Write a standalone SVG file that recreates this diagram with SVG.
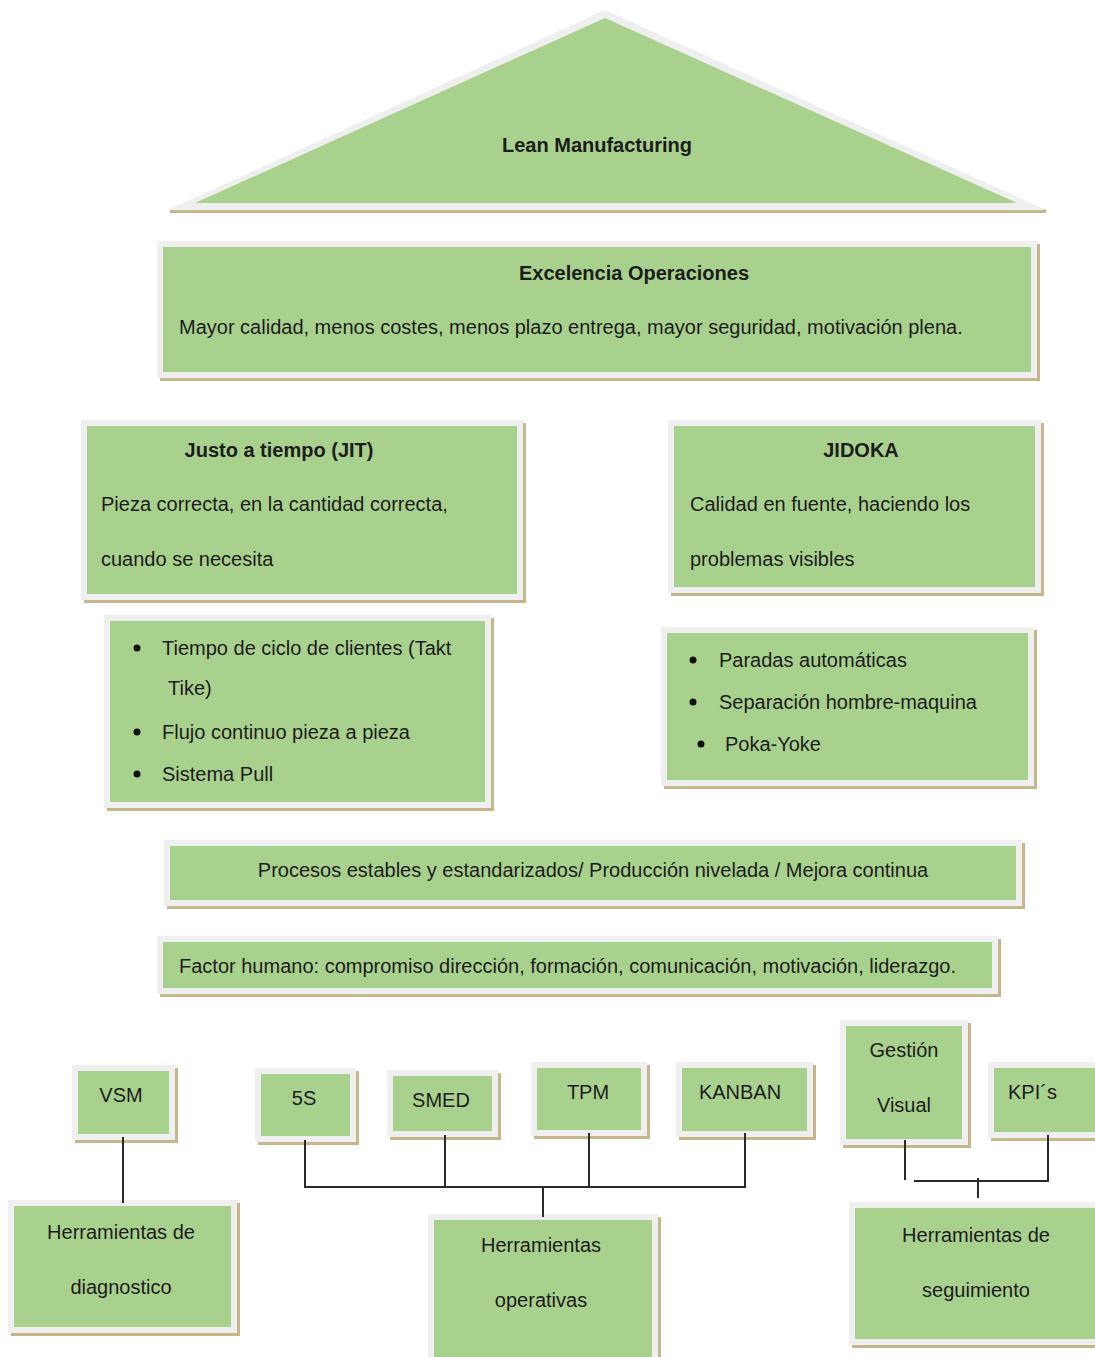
<svg xmlns="http://www.w3.org/2000/svg" width="1095" height="1357" viewBox="0 0 1095 1357">
  <style>
    .sh { fill: #c7b68b; }
    .fr { fill: #a9d18e; stroke: #efefef; stroke-width: 6; }
    text { font-family: "Liberation Sans", Arial, sans-serif; font-size: 20px; fill: #1c1c1c; }
    .b { font-weight: bold; }
    .c { text-anchor: middle; }
    .ln { stroke: #2a2a2a; stroke-width: 2; fill: none; }
    .dot { fill: #111; }
  </style>
  <rect width="1095" height="1357" fill="#ffffff"/>

  <!-- roof -->
  <g id="roof">
    <rect class="sh" x="170" y="209" width="876" height="4"/>
    <polygon points="605,10 168,210 1046,210" fill="#efefef"/>
    <polygon points="605,18 195,203 1017,203" fill="#a9d18e"/>
    <text class="b c" x="597" y="152">Lean Manufacturing</text>
  </g>

  <g id="excelencia">
    <rect class="sh" x="160" y="244" width="880" height="137"/>
    <rect class="fr" x="160" y="244" width="874" height="131"/>
    <text class="b c" x="634" y="280">Excelencia Operaciones</text>
    <text x="179" y="334">Mayor calidad, menos costes, menos plazo entrega, mayor seguridad, motivación plena.</text>
  </g>

  <g id="jit">
    <rect class="sh" x="84" y="423" width="442" height="180"/>
    <rect class="fr" x="84" y="423" width="436" height="174"/>
    <text class="b c" x="279" y="457">Justo a tiempo (JIT)</text>
    <text x="101" y="511">Pieza correcta, en la cantidad correcta,</text>
    <text x="101" y="566">cuando se necesita</text>
  </g>

  <g id="jidoka">
    <rect class="sh" x="671" y="423" width="373" height="173"/>
    <rect class="fr" x="671" y="423" width="367" height="167"/>
    <text class="b c" x="861" y="457">JIDOKA</text>
    <text x="690" y="511">Calidad en fuente, haciendo los</text>
    <text x="690" y="566">problemas visibles</text>
  </g>

  <g id="jit-items">
    <rect class="sh" x="107" y="618" width="387" height="193"/>
    <rect class="fr" x="107" y="618" width="381" height="187"/>
    <circle class="dot" cx="137" cy="648" r="3.5"/>
    <text x="162" y="655">Tiempo de ciclo de clientes (Takt</text>
    <text x="168" y="695">Tike)</text>
    <circle class="dot" cx="137" cy="732" r="3.5"/>
    <text x="162" y="739">Flujo continuo pieza a pieza</text>
    <circle class="dot" cx="137" cy="774" r="3.5"/>
    <text x="162" y="781">Sistema Pull</text>
  </g>

  <g id="jidoka-items">
    <rect class="sh" x="664" y="630" width="373" height="159"/>
    <rect class="fr" x="664" y="630" width="367" height="153"/>
    <circle class="dot" cx="693" cy="660" r="3.5"/>
    <text x="719" y="667">Paradas automáticas</text>
    <circle class="dot" cx="693" cy="702" r="3.5"/>
    <text x="719" y="709">Separación hombre-maquina</text>
    <circle class="dot" cx="701" cy="744" r="3.5"/>
    <text x="725" y="751">Poka-Yoke</text>
  </g>

  <g id="procesos">
    <rect class="sh" x="167" y="843" width="858" height="66"/>
    <rect class="fr" x="167" y="843" width="852" height="60"/>
    <text class="c" x="593" y="877">Procesos estables y estandarizados/ Producción nivelada / Mejora continua</text>
  </g>

  <g id="factor-humano">
    <rect class="sh" x="160" y="939" width="841" height="58"/>
    <rect class="fr" x="160" y="939" width="835" height="52"/>
    <text x="179" y="973">Factor humano: compromiso dirección, formación, comunicación, motivación, liderazgo.</text>
  </g>

  <!-- tool boxes -->
  <g id="vsm">
    <rect class="sh" x="75" y="1068" width="103" height="75"/>
    <rect class="fr" x="75" y="1068" width="97" height="69"/>
    <text class="c" x="121" y="1102">VSM</text>
  </g>
  <g id="s5">
    <rect class="sh" x="258" y="1071" width="101" height="74"/>
    <rect class="fr" x="258" y="1071" width="95" height="68"/>
    <text class="c" x="304" y="1105">5S</text>
  </g>
  <g id="smed">
    <rect class="sh" x="390" y="1073" width="111" height="67"/>
    <rect class="fr" x="390" y="1073" width="105" height="61"/>
    <text class="c" x="441" y="1107">SMED</text>
  </g>
  <g id="tpm">
    <rect class="sh" x="534" y="1065" width="116" height="74"/>
    <rect class="fr" x="534" y="1065" width="110" height="68"/>
    <text class="c" x="588" y="1099">TPM</text>
  </g>
  <g id="kanban">
    <rect class="sh" x="679" y="1065" width="137" height="75"/>
    <rect class="fr" x="679" y="1065" width="131" height="69"/>
    <text class="c" x="740" y="1099">KANBAN</text>
  </g>
  <g id="gestion-visual">
    <rect class="sh" x="843" y="1023" width="128" height="125"/>
    <rect class="fr" x="843" y="1023" width="122" height="119"/>
    <text class="c" x="904" y="1057">Gestión</text>
    <text class="c" x="904" y="1112">Visual</text>
  </g>
  <g id="kpis">
    <rect class="sh" x="991" y="1065" width="110" height="76"/>
    <rect class="fr" x="991" y="1065" width="110" height="70"/>
    <text x="1008" y="1099">KPI´s</text>
  </g>

  <g id="herr-diagnostico">
    <rect class="sh" x="11" y="1203" width="229" height="133"/>
    <rect class="fr" x="11" y="1203" width="223" height="127"/>
    <text class="c" x="121" y="1239">Herramientas de</text>
    <text class="c" x="121" y="1294">diagnostico</text>
  </g>
  <g id="herr-operativas">
    <rect class="sh" x="431" y="1217" width="230" height="150"/>
    <rect class="fr" x="431" y="1217" width="224" height="150"/>
    <text class="c" x="541" y="1252">Herramientas</text>
    <text class="c" x="541" y="1307">operativas</text>
  </g>
  <g id="herr-seguimiento">
    <rect class="sh" x="852" y="1205" width="250" height="143"/>
    <rect class="fr" x="852" y="1205" width="250" height="137"/>
    <text class="c" x="976" y="1242">Herramientas de</text>
    <text class="c" x="976" y="1297">seguimiento</text>
  </g>

  <g id="connectors">
    <line class="ln" x1="123" y1="1137" x2="123" y2="1203"/>
    <polyline class="ln" points="305,1140 305,1187 745,1187 745,1133"/>
    <line class="ln" x1="445" y1="1135" x2="445" y2="1187"/>
    <line class="ln" x1="589" y1="1133" x2="589" y2="1187"/>
    <line class="ln" x1="543" y1="1186" x2="543" y2="1217"/>
    <line class="ln" x1="905" y1="1140" x2="905" y2="1180"/>
    <polyline class="ln" points="914,1181 1048,1181 1048,1135"/>
    <line class="ln" x1="978" y1="1178" x2="978" y2="1198"/>
  </g>
</svg>
